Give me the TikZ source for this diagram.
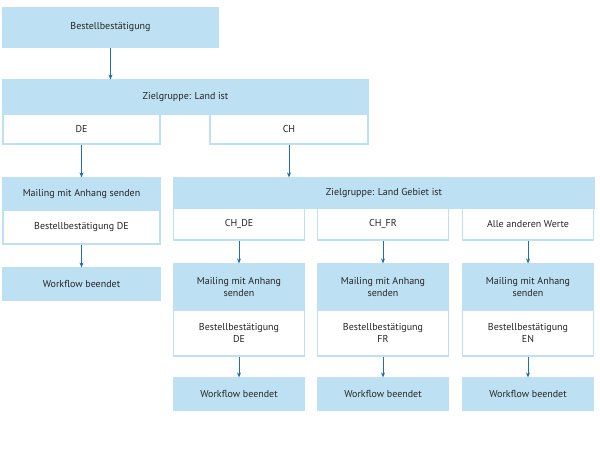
\documentclass[tikz,border=0pt]{standalone}
\usepackage{fontspec}
\usetikzlibrary{arrows.meta}
\setmainfont{PT Sans}
\definecolor{boxfill}{HTML}{BDE0F3}
\definecolor{arr}{HTML}{1C6FB3}
\begin{document}
\begin{tikzpicture}[x=1pt,y=-1pt,
  base/.style={draw=boxfill,line width=1.2pt,inner sep=2pt,align=center,font=\fontsize{10}{12}\selectfont,text=black!85},
  fillbox/.style={base,fill=boxfill},
  cell/.style={base,fill=white},
  arrow/.style={-{Stealth[length=5pt,width=4pt]},draw=arr,line width=0.8pt}]
\useasboundingbox[fill=white] (0,0) rectangle (600,448);
\node[fillbox,minimum width=215pt,minimum height=39pt] (b) at (110.5,27.5) {Bestellbestätigung};
\node[fillbox,minimum width=365pt,minimum height=34pt] (z1) at (185.5,97) {Zielgruppe: Land ist};
\node[cell,minimum width=157pt,minimum height=30pt] (de) at (81.5,129) {DE};
\node[cell,minimum width=158pt,minimum height=30pt] (ch) at (289,129) {CH};
\node[fillbox,minimum width=157pt,minimum height=32pt] (m1) at (81.5,194) {Mailing mit Anhang senden};
\node[cell,minimum width=157pt,minimum height=34pt] (bd) at (81.5,227) {Bestellbestätigung DE};
\node[fillbox,minimum width=157pt,minimum height=32pt] (w1) at (81.5,284) {Workflow beendet};
\node[fillbox,minimum width=420pt,minimum height=30pt] (z2) at (384,193) {Zielgruppe: Land Gebiet ist};
\foreach \n/\x/\t/\l in {a/239/CH\_DE/DE,b/383/CH\_FR/FR,c/528/Alle anderen Werte/EN}{
  \node[cell,minimum width=131pt,minimum height=32pt] (c\n) at (\x,224) {\t};
  \node[fillbox,minimum width=131pt,minimum height=46pt] (m\n) at (\x,287) {Mailing mit Anhang\\senden};
  \node[cell,minimum width=131pt,minimum height=46pt] (s\n) at (\x,333) {Bestellbestätigung\\\l};
  \node[fillbox,minimum width=131pt,minimum height=32pt] (w\n) at (\x,394) {Workflow beendet};
  \draw[arrow] (c\n) -- (m\n);
  \draw[arrow] (s\n) -- (w\n);
}
\draw[arrow] (b) -- (b|-z1.north);
\draw[arrow] (de) -- (m1);
\draw[arrow] (bd) -- (w1);
\draw[arrow] (ch) -- (ch|-z2.north);
\end{tikzpicture}
\end{document}
